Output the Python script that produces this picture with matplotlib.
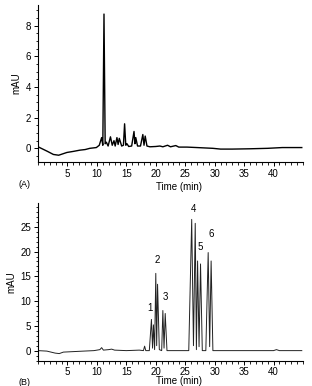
import matplotlib
matplotlib.use("Agg")
import matplotlib.pyplot as plt
from matplotlib.ticker import MultipleLocator

plt.rcParams['font.family'] = ['Liberation Sans', 'DejaVu Sans']

# Panel A chromatogram (time in min, signal in mAU)
time_a = [0.0, 0.8, 1.6, 2.6, 3.5, 4.9, 6.0, 7.1, 8.0, 8.8, 9.9, 10.4, 10.8, 11.0,
          11.2, 11.4, 11.6, 11.9, 12.3, 12.6, 12.9, 13.1, 13.4, 13.6, 13.8, 14.2,
          14.5, 14.7, 14.9, 15.1, 15.4, 15.9, 16.3, 16.45, 16.6, 16.9, 17.4, 17.8,
          18.0, 18.2, 18.5, 19.0, 20.0, 20.7, 21.2, 22.0, 22.5, 23.4, 23.9, 25.3,
          27.0, 29.7, 31.0, 33.0, 36.0, 39.0, 41.5, 43.0, 44.8]
signal_a = [0.1, -0.05, -0.2, -0.4, -0.45, -0.27, -0.2, -0.12, -0.08, 0.0, 0.05,
            0.2, 0.7, 0.2, 8.76, 0.3, 0.4, 0.15, 0.75, 0.2, 0.5, 0.15, 0.7, 0.25,
            0.65, 0.15, 0.2, 1.6, 0.2, 0.3, 0.12, 0.15, 1.1, 0.3, 0.7, 0.15, 0.15,
            0.9, 0.2, 0.8, 0.15, 0.1, 0.12, 0.15, 0.1, 0.2, 0.1, 0.18, 0.08, 0.08,
            0.05, 0.0, -0.05, -0.05, -0.03, 0.0, 0.05, 0.05, 0.05]

# Panel B chromatogram
time_b = [0.0, 1.5, 2.9, 3.6, 4.3, 6.0, 7.7, 9.5, 10.5, 10.8, 11.1, 12.0, 12.5,
          13.0, 15.0, 17.2, 17.9, 18.1, 18.3, 18.9, 19.26, 19.45, 19.6, 19.8,
          20.0, 20.15, 20.3, 20.6, 21.0, 21.2, 21.4, 21.6, 21.9, 25.6, 26.1,
          26.4, 26.7, 26.9, 27.1, 27.35, 27.6, 27.9, 28.5, 28.9, 29.15, 29.4,
          29.7, 32.0, 36.0, 40.0, 40.5, 41.0, 44.8]
signal_b = [0.0, -0.1, -0.5, -0.6, -0.3, -0.2, -0.1, 0.0, 0.2, 0.6, 0.1, 0.2, 0.3,
            0.1, 0.0, 0.1, 0.0, 0.9, 0.0, 0.0, 6.3, 0.5, 5.2, 0.2, 15.6, 1.0,
            13.4, 0.2, 0.0, 8.1, 0.5, 7.5, 0.0, 0.0, 26.5, 1.0, 25.7, 0.2, 18.1,
            0.8, 17.5, 0.0, 0.0, 19.8, 0.8, 18.1, 0.0, 0.0, 0.0, 0.0, 0.2, 0.0, 0.0]

peak_labels = ["1", "2", "3", "4", "5", "6"]
peak_label_t = [19.1, 20.2, 21.6, 26.4, 27.6, 29.5]
peak_label_y = [7.5, 17.2, 9.8, 27.6, 19.9, 22.6]

fig = plt.figure(figsize=(3.12, 3.86), dpi=100)
ax_a = fig.add_axes([0.122, 0.580, 0.849, 0.407])
ax_b = fig.add_axes([0.122, 0.066, 0.849, 0.408])

def style(ax, ylim, ymaj, ymin):
    ax.set_xlim(0, 45)
    ax.set_ylim(*ylim)
    for s in ("top", "right"):
        ax.spines[s].set_visible(False)
    for s in ("left", "bottom"):
        ax.spines[s].set_linewidth(0.8)
    ax.xaxis.set_major_locator(MultipleLocator(5))
    ax.xaxis.set_minor_locator(MultipleLocator(1))
    ax.yaxis.set_major_locator(MultipleLocator(ymaj))
    ax.yaxis.set_minor_locator(MultipleLocator(ymin))
    ax.tick_params(which="major", direction="out", length=3, width=0.7,
                   labelsize=7, pad=2)
    ax.tick_params(which="minor", direction="out", length=1.8, width=0.6)
    ax.set_xticks([5, 10, 15, 20, 25, 30, 35, 40])
    ax.set_ylabel("mAU", fontsize=7, labelpad=3)

ax_a.plot(time_a, signal_a, color="black", lw=1.0)
style(ax_a, (-0.9, 9.35), 2, 0.5)
ax_a.set_yticks([0, 2, 4, 6, 8])

ax_b.plot(time_b, signal_b, color="#222222", lw=0.7)
style(ax_b, (-2.0, 29.8), 5, 1)
ax_b.set_yticks([0, 5, 10, 15, 20, 25])
for lab, t, y in zip(peak_labels, peak_label_t, peak_label_y):
    ax_b.text(t, y, lab, fontsize=7, ha="center", va="bottom")

fig.text(0.573, 0.515, "Time (min)", fontsize=7, ha="center", va="center")
fig.text(0.08, 0.523, "(A)", fontsize=6.5, ha="center", va="center")
fig.text(0.573, 0.012, "Time (min)", fontsize=7, ha="center", va="center")
fig.text(0.08, 0.008, "(B)", fontsize=6.5, ha="center", va="center")

fig.savefig("out.png", dpi=100)
